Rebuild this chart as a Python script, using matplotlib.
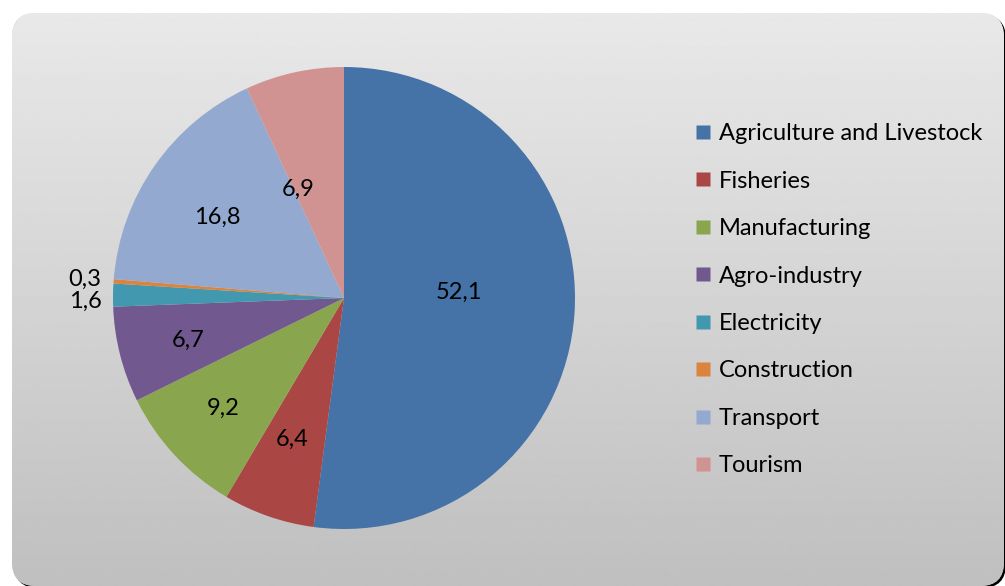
import numpy as np
import matplotlib
matplotlib.use("Agg")
import matplotlib.pyplot as plt
from matplotlib.patches import FancyBboxPatch
from matplotlib.lines import Line2D

categories = ["Agriculture and Livestock", "Fisheries", "Manufacturing", "Agro-industry",
              "Electricity", "Construction", "Transport", "Tourism"]
values = [52.1, 6.4, 9.2, 6.7, 1.6, 0.3, 16.8, 6.9]
value_labels = ["52,1", "6,4", "9,2", "6,7", "1,6", "0,3", "16,8", "6,9"]
colors = ["#4572A7", "#AA4643", "#89A54E", "#71588F", "#4198AF", "#DB843D", "#93A9CF", "#D19392"]
# label placement style: radial fraction and angular nudge (deg); None -> outside label
label_r = [0.50, 0.65, 0.71, 0.70, None, None, 0.65, 0.51]
label_nudge = [6.5, -1.0, -0.5, 1.0, 0, 0, 2.5, 10.5]

W, H = 1005, 586
fig = plt.figure(figsize=(W / 100, H / 100), dpi=100)
fig.patch.set_facecolor("white")
FONT = "Lato"

# background rounded box with vertical gradient
bg = fig.add_axes([0, 0, 1, 1])
bg.set_xlim(0, W)
bg.set_ylim(0, H)
bg.axis("off")
bx, by, bw, bh = 12, 0, 992, H - 13
shadow = FancyBboxPatch((bx + 2, by - 2), bw, bh, boxstyle="round,pad=0,rounding_size=24",
                        facecolor="black", edgecolor="none", zorder=-2)
bg.add_patch(shadow)
box = FancyBboxPatch((bx, by), bw, bh, boxstyle="round,pad=0,rounding_size=24",
                     facecolor="#d5d5d5", edgecolor="none", zorder=-1)
bg.add_patch(box)
grad = np.linspace(0.75, 0.915, 256).reshape(-1, 1)
im = bg.imshow(grad, cmap="gray", vmin=0, vmax=1, extent=[0, W, 0, H], origin="lower",
               aspect="auto", interpolation="bilinear", zorder=0)
im.set_clip_path(box)

# pie
cx, cy, r = 344, H - 298, 231
ax = fig.add_axes([(cx - r) / W, (cy - r) / H, 2 * r / W, 2 * r / H])
ax.axis("off")
wedges, _ = ax.pie(values, colors=colors, startangle=90, counterclock=False, radius=1,
                   wedgeprops=dict(linewidth=0))
ax.set_xlim(-1, 1)
ax.set_ylim(-1, 1)

total = sum(values)
cum = 0
for v, lab, lr, nd in zip(values, value_labels, label_r, label_nudge):
    mid = cum + v / 2
    cum += v
    ang = np.deg2rad(90 - 360 * mid / total + nd)
    if lr is not None:
        ax.text(lr * np.cos(ang), lr * np.sin(ang), lab, ha="center", va="center",
                fontsize=17, family=FONT, color="black")
    else:
        yy = np.sin(ang) - 0.025
        if lab == "0,3":
            yy += 0.035
        ax.text(-1.05, yy, lab, ha="right", va="center", fontsize=17, family=FONT, color="black")

handles = [Line2D([], [], marker="s", linestyle="none", markersize=10, markerfacecolor=c,
                  markeredgecolor="none") for c in colors]
fig.legend(handles, categories, loc="upper left", bbox_to_anchor=(675 / W, 1 - 102 / H),
           frameon=False, handlelength=0.6, handletextpad=0.35, labelspacing=1.12,
           prop={"family": FONT, "size": 17})

fig.savefig("out.png", dpi=100)
